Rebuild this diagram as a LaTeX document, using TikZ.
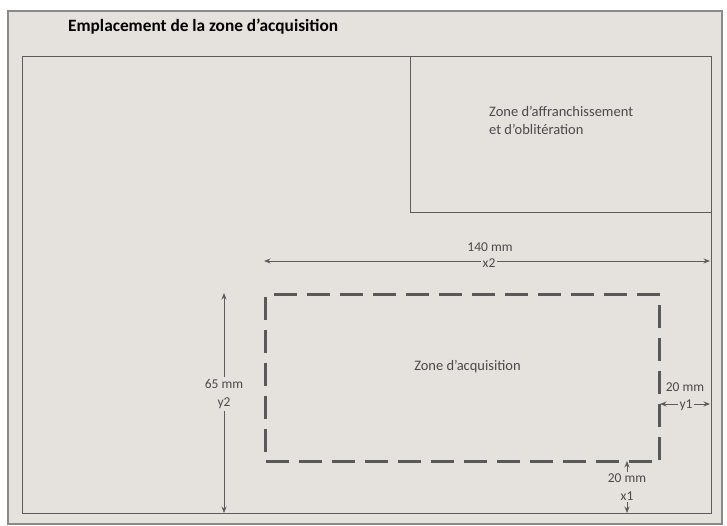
\documentclass[tikz,border=0pt]{standalone}
\usepackage{fontspec}
\setmainfont{Carlito}
\usetikzlibrary{arrows.meta}
\definecolor{bg}{HTML}{E5E1DD}
\definecolor{ln}{HTML}{5C5C5C}
\definecolor{dl}{HTML}{595959}
\definecolor{tx}{HTML}{4A4A4A}
\definecolor{pb}{HTML}{8A8A8A}
\begin{document}
\begin{tikzpicture}[x=1pt,y=-1pt,
  box/.style={draw=ln, line width=1pt, inner sep=0pt, anchor=north west},
  dimline/.style={draw=ln, line width=0.8pt, {Stealth[length=6.5pt,width=5pt]}-{Stealth[length=6.5pt,width=5pt]}},
  lbl/.style={text=tx, font=\fontsize{13.5}{17.5}\selectfont, inner sep=1pt, align=center},
  gap/.style={lbl, fill=bg, inner sep=2pt}]
\useasboundingbox (0,0) rectangle (727,525);
\fill[white] (0,0) rectangle (727,525);
\node[box, draw=pb, fill=bg, line width=1.5pt, minimum width=714pt, minimum height=513pt] (panel) at (7,10) {};
\node[anchor=west, inner sep=0pt, font=\bfseries\fontsize{17.3}{19}\selectfont] (title) at (68,27) {Emplacement de la zone d’acquisition};
\node[box, minimum width=689pt, minimum height=457pt] (sheet) at (22,56) {};
\node[box, minimum width=301pt, minimum height=156pt] (stamp) at (410,56) {};
\node[lbl, anchor=north west, align=left, inner sep=0pt, font=\fontsize{14.5}{18}\selectfont] (stamptxt) at (489,106) {Zone d’affranchissement\\et d’oblitération};
\node[box, draw=dl, line width=3pt, dash pattern=on 23pt off 10pt, minimum width=394pt, minimum height=167pt] (acq) at (264,293) {};
\node[lbl, font=\fontsize{14.5}{17}\selectfont] (acqtxt) at (467.5,367) {Zone d’acquisition};
% x2
\coordinate (x2a) at (264,261);
\coordinate (x2b) at (710,261);
\draw[dimline] (x2a) -- (x2b);
\node[gap] (x2lbl) at (489,263) {x2};
\node[lbl] (x2mm) at (490,247) {140 mm};
% y2
\coordinate (y2a) at (224,293);
\coordinate (y2b) at (224,513);
\draw[dimline] (y2a) -- (y2b);
\node[gap, inner sep=3pt] (y2lbl) at (224,394) {65 mm\\y2};
% y1
\coordinate (y1a) at (660,404);
\coordinate (y1b) at (710,404);
\draw[dimline] (y1a) -- (y1b);
\node[gap, inner sep=1.5pt] (y1lbl) at (686,405) {y1};
\node[lbl] (y1mm) at (685,387) {20 mm};
% x1
\coordinate (x1a) at (627,461);
\coordinate (x1b) at (627,513);
\draw[dimline] (x1a) -- (x1b);
\node[gap, inner sep=2pt] (x1lbl) at (627,487) {20 mm\\x1};
\end{tikzpicture}
\end{document}
